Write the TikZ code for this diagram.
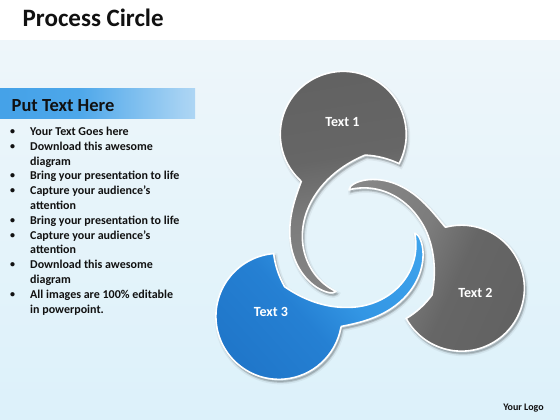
\documentclass[tikz,border=0pt]{standalone}
\usepackage{fontspec}
\setmainfont{Carlito}
\definecolor{bgtop}{HTML}{EEF6FA}
\definecolor{bgbot}{HTML}{DCF1FA}
\definecolor{bandA}{HTML}{3A9BE5}
\definecolor{bandB}{HTML}{4DA7EA}
\definecolor{bandC}{HTML}{A6D2F3}
\definecolor{bandD}{HTML}{ECF5FA}
\definecolor{gA}{HTML}{5C5C5C}
\definecolor{gB}{HTML}{666666}
\definecolor{gC}{HTML}{7C7C7C}
\definecolor{gD}{HTML}{929292}
\definecolor{bA}{HTML}{1A6CBF}
\definecolor{bB}{HTML}{2580D3}
\definecolor{bC}{HTML}{3396E4}
\definecolor{bD}{HTML}{45ACF2}
\definecolor{txt}{HTML}{111111}
\pgfdeclarehorizontalshading{bandshade}{100bp}{color(0bp)=(bandA); color(45bp)=(bandB); color(72bp)=(bandC); color(100bp)=(bandD)}
\pgfdeclareverticalshading{grayshape}{100bp}{color(0bp)=(gA); color(45bp)=(gB); color(58bp)=(gC); color(100bp)=(gD)}
\pgfdeclareverticalshading{blueshape}{100bp}{color(0bp)=(bA); color(45bp)=(bB); color(58bp)=(bC); color(100bp)=(bD)}
% #1 blob angle, #2 tail length scale, #3 path options
\newcommand{\petal}[3]{%
\path[#3] ({#1-34.9}:88)
  arc[start angle={#1-127}, end angle={#1+128}, radius=63]
  -- plot[domain=0:1, samples=50, variable=\u] ({#1+35+103*#2*\u}:{53+35*exp(-(47+103*\u)/48)+12.5*sqrt(max(1-\u*\u*sqrt(\u),0))+7*exp(-\u/0.15)})
  -- plot[domain=1:0, samples=45, variable=\u] ({#1+35+103*#2*\u}:{53+35*exp(-(47+103*\u)/48)})
  -- plot[domain=35:-12, samples=25, variable=\a] ({#1+\a}:{53+35*exp(-(\a+12)/48)})
  arc[start angle={#1-12}, end angle={#1-34.9}, radius=88]
  -- cycle;}
\tikzset{
  bl/.style={anchor=base west, inner sep=0pt, text=txt, font=\bfseries\fontsize{12}{14}\selectfont},
  bu/.style={anchor=base west, inner sep=0pt, text=txt, font=\bfseries\fontsize{10}{12}\selectfont},
  lbl/.style={text=white, font=\bfseries\fontsize{14}{16}\selectfont},
  shA/.style={draw=black, line width=5pt, opacity=0.05},
  shB/.style={fill=black, draw=black, line width=2pt, opacity=0.14},
  outl/.style={draw=white, line width=1.6pt, shade}
}
\begin{document}
\begin{tikzpicture}[x=1pt,y=1pt]
\useasboundingbox (0,0) rectangle (560,420);
% background
\fill[bottom color=bgbot, top color=bgtop] (0,0) rectangle (560,380);
\fill[white] (0,380) rectangle (560,420);
\fill[shading=bandshade, shade] (0,301) rectangle (195,331);
% texts on the left
\node[anchor=base west, inner sep=0pt, text=txt, font=\bfseries\fontsize{25}{29}\selectfont] (title) at (22.5,393) {Process Circle};
\node[anchor=base west, inner sep=0pt, text=txt, font=\bfseries\fontsize{18.5}{21}\selectfont] (head) at (11.5,308.3) {Put Text Here};
\foreach \i/\b/\t in {0/1/Your Text Goes here, 1/1/Download this awesome, 2/0/diagram, 3/1/Bring your presentation to life, 4/1/Capture your audience’s, 5/0/attention, 6/1/Bring your presentation to life, 7/1/Capture your audience’s, 8/0/attention, 9/1/Download this awesome, 10/0/diagram, 11/1/All images are 100\% editable, 12/0/in powerpoint.}{
  \node[bl] (line\i) at (30,{284.5-14.8*\i}) {\t};
  \ifnum\b=1 \node[bu] (bul\i) at (10,{285.5-14.8*\i}) {•}; \fi
}
\node[inner sep=0pt, text=txt, font=\bfseries\fontsize{10}{12}\selectfont] (logo) at (523.5,12) {Your Logo};
% shadows
\begin{scope}[shift={(362.5,174.5)}]
  \petal{99.3}{1.05}{shA}
  \petal{-24.2}{0.89}{shA}
  \petal{221.8}{1.10}{shA}
  \petal{99.3}{1.05}{shB}
  \petal{-24.2}{0.89}{shB}
  \petal{221.8}{1.10}{shB}
\end{scope}
% shapes
\begin{scope}[shift={(361,177)}]
  \petal{99.3}{1.05}{outl, shading=grayshape, shading angle=189.3}
  \petal{-24.2}{0.89}{outl, shading=grayshape, shading angle=65.8}
  \petal{221.8}{1.10}{outl, shading=blueshape, shading angle=311.8}
\end{scope}
\node[lbl] (t1) at (342.5,298) {Text 1};
\node[lbl] (t2) at (475.5,127.5) {Text 2};
\node[lbl] (t3) at (271,108.5) {Text 3};
\end{tikzpicture}
\end{document}
